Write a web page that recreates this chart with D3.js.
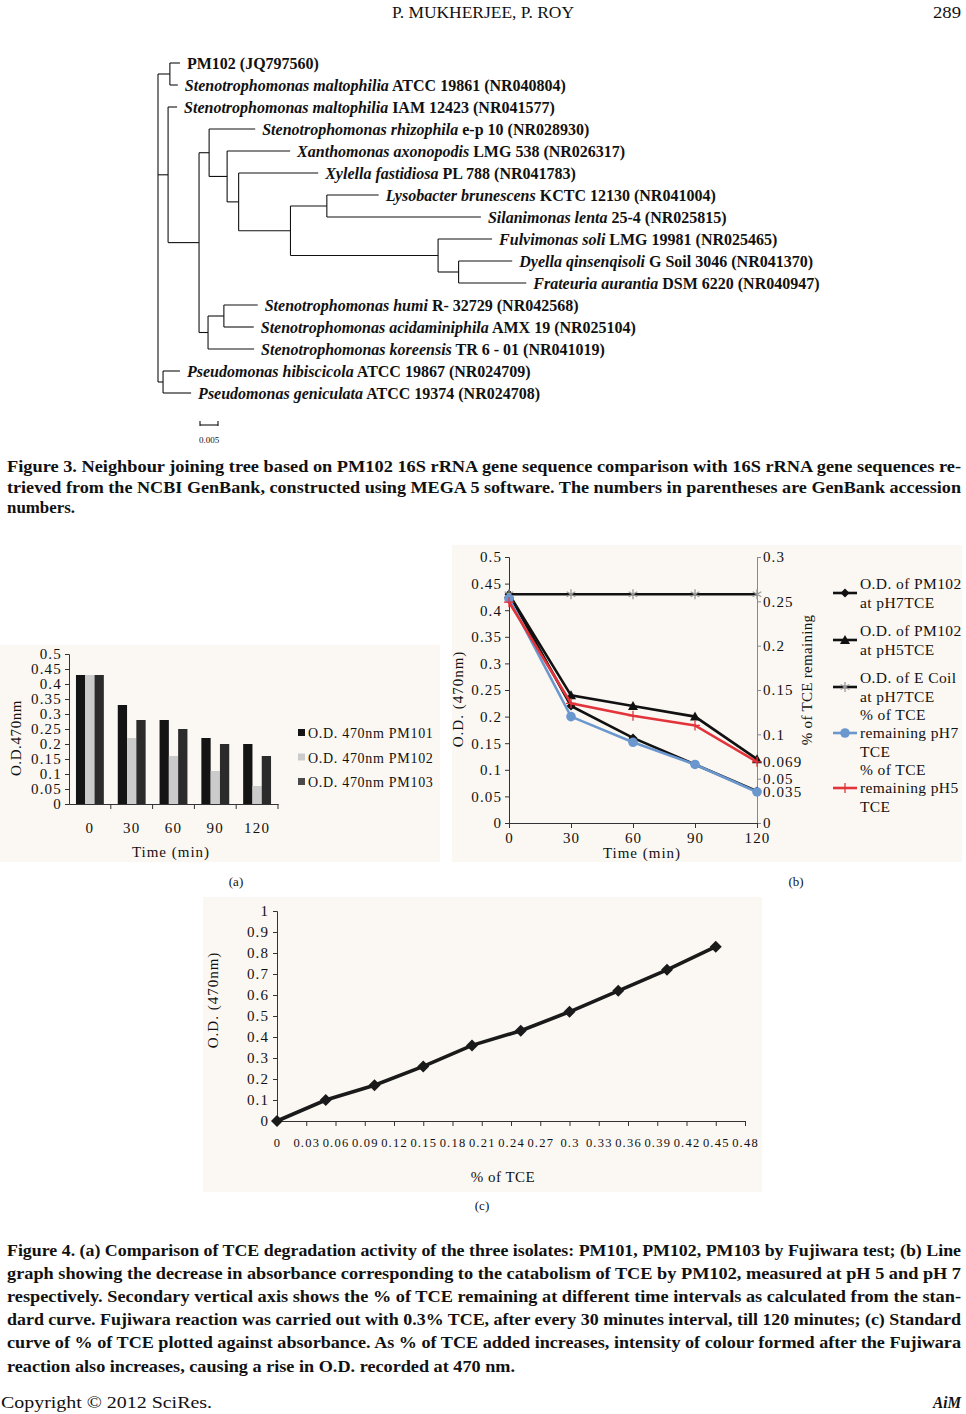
<!DOCTYPE html>
<html><head><meta charset="utf-8">
<script src="https://cdn.jsdelivr.net/npm/d3@7"></script>
<style>
body{margin:0;background:#fff;}
svg{display:block;}
text{font-family:"Liberation Serif","Times New Roman",serif;fill:#111;}
</style></head><body>
<svg id="page" width="966" height="1414"></svg>
<script>
// ================= DATA =================
const headerText = "P. MUKHERJEE, P. ROY";
const pageNumber = "289";
const footerLeft = "Copyright © 2012 SciRes.";
const footerRight = "AiM";

const fig3Caption = [
  "Figure 3. Neighbour joining tree based on PM102 16S rRNA gene sequence comparison with 16S rRNA gene sequences re-",
  "trieved from the NCBI GenBank, constructed using MEGA 5 software. The numbers in parentheses are GenBank accession",
  "numbers."
];
const fig4Caption = [
  "Figure 4. (a) Comparison of TCE degradation activity of the three isolates: PM101, PM102, PM103 by Fujiwara test; (b) Line",
  "graph showing the decrease in absorbance corresponding to the catabolism of TCE by PM102, measured at pH 5 and pH 7",
  "respectively. Secondary vertical axis shows the % of TCE remaining at different time intervals as calculated from the stan-",
  "dard curve. Fujiwara reaction was carried out with 0.3% TCE, after every 30 minutes interval, till 120 minutes; (c) Standard",
  "curve of % of TCE plotted against absorbance. As % of TCE added increases, intensity of colour formed after the Fujiwara",
  "reaction also increases, causing a rise in O.D. recorded at 470 nm."
];
const panelLabels = ["(a)", "(b)", "(c)"];

// ---- Figure 3: neighbour joining tree ----
const leafSpecies = [
  "", "Stenotrophomonas maltophilia", "Stenotrophomonas maltophilia", "Stenotrophomonas rhizophila",
  "Xanthomonas axonopodis", "Xylella fastidiosa", "Lysobacter brunescens", "Silanimonas lenta",
  "Fulvimonas soli", "Dyella qinsenqisoli", "Frateuria aurantia", "Stenotrophomonas humi",
  "Stenotrophomonas acidaminiphila", "Stenotrophomonas koreensis", "Pseudomonas hibiscicola", "Pseudomonas geniculata"
];
const leafStrain = [
  "PM102 (JQ797560)", " ATCC 19861 (NR040804)", " IAM 12423 (NR041577)", " e-p 10 (NR028930)",
  " LMG 538 (NR026317)", " PL 788 (NR041783)", " KCTC 12130 (NR041004)", " 25-4 (NR025815)",
  " LMG 19981 (NR025465)", " G Soil 3046 (NR041370)", " DSM 6220 (NR040947)", " R- 32729 (NR042568)",
  " AMX 19 (NR025104)", " TR 6 - 01 (NR041019)", " ATCC 19867 (NR024709)", " ATCC 19374 (NR024708)"
];
// [branchLength, child, child...]; a leaf is [branchLength, leafIndex]
const treeBranches =
[0,
  [0.0033, [0.0028, 0], [0.0022, 1]],
  [0.0028, [0.0025, 2],
    [0.0086,
      [0.0028, [0.0128, 3],
        [0.0050, [0.0175, 4],
          [0.0032, [0.0221, 5],
            [0.0144,
              [0.0101, [0.0144, 6], [0.0428, 7]],
              [0.0410, [0.0150, 8], [0.0057, [0.0149, 9], [0.0188, 10]]]
            ]
          ]
        ]
      ],
      [0.0025, [0.0044, [0.0094, 11], [0.0083, 12]], [0.0128, 13]]
    ]
  ],
  [0.0014, [0.0047, 14], [0.0078, 15]]
];
const scaleBarValue = 0.005;
const scaleBarLabel = "0.005";

// ---- Figure 4a ----
const timesA = ["0", "30", "60", "90", "120"];
const seriesA = ["O.D. 470nm PM101", "O.D. 470nm PM102", "O.D. 470nm PM103"];
const odPM101 = [0.43, 0.33, 0.28, 0.22, 0.20];
const odPM102 = [0.43, 0.22, 0.16, 0.11, 0.06];
const odPM103 = [0.43, 0.28, 0.25, 0.20, 0.16];
const ticksA = [0, 0.05, 0.1, 0.15, 0.2, 0.25, 0.3, 0.35, 0.4, 0.45, 0.5];
const colorsA = ["#141414", "#cbcbcb", "#2b2b2b"];

// ---- Figure 4b ----
const timesB = [0, 30, 60, 90, 120];
const odPH7 = [0.43, 0.22, 0.16, 0.11, 0.06];
const odPH5 = [0.43, 0.24, 0.22, 0.20, 0.12];
const odEColi = [0.43, 0.43, 0.43, 0.43, 0.43];
const tcePH7 = [0.253, 0.12, 0.091, 0.066, 0.035];
const tcePH5 = [0.249, 0.135, 0.121, 0.11, 0.069];
const ticksBLeft = [0, 0.05, 0.1, 0.15, 0.2, 0.25, 0.3, 0.35, 0.4, 0.45, 0.5];
const ticksBRight = [0, 0.035, 0.05, 0.069, 0.1, 0.15, 0.2, 0.25, 0.3];
const legendB = [
  ["O.D. of  PM102", "at pH7TCE"],
  ["O.D. of  PM102", "at pH5TCE"],
  ["O.D. of  E Coil", "at pH7TCE"],
  ["% of TCE", "remaining pH7", "TCE"],
  ["% of TCE", "remaining pH5", "TCE"]
];

// ---- Figure 4c ----
const tceC = [0, 0.05, 0.1, 0.15, 0.2, 0.25, 0.3, 0.35, 0.4, 0.45];
const odC = [0, 0.10, 0.17, 0.26, 0.36, 0.43, 0.52, 0.62, 0.72, 0.83];
const ticksCy = [0, 0.1, 0.2, 0.3, 0.4, 0.5, 0.6, 0.7, 0.8, 0.9, 1];
const ticksCx = [0, 0.03, 0.06, 0.09, 0.12, 0.15, 0.18, 0.21, 0.24, 0.27, 0.3, 0.33, 0.36, 0.39, 0.42, 0.45, 0.48];

// ================= DRAW =================
const svg = d3.select("#page");
const fmt = d => d === 0 ? "0" : String(+d.toFixed(3));
const panelFill = "#fbf8f4";

function txt(g, s, x, y, o = {}) {
  const t = g.append("text").attr("x", x).attr("y", y).text(s)
    .style("font-size", (o.size || 16) + "px")
    .style("font-weight", o.bold ? "bold" : "normal")
    .style("font-style", o.italic ? "italic" : "normal")
    .attr("text-anchor", o.anchor || "start");
  if (o.ls) t.style("letter-spacing", o.ls + "px");
  if (o.width) t.attr("textLength", o.width).attr("lengthAdjust", "spacingAndGlyphs");
  if (o.fill) t.style("fill", o.fill);
  return t;
}

// header / footer
txt(svg, headerText, 483, 18, {size: 16, anchor: "middle", width: 182});
txt(svg, pageNumber, 961, 18, {size: 16, anchor: "end", width: 28});
txt(svg, footerLeft, 1, 1408, {size: 16, width: 211});
txt(svg, footerRight, 961, 1408, {size: 16, bold: true, italic: true, anchor: "end", width: 28});

// captions
const capLeft = 7, capRight = 961;
fig3Caption.forEach((s, i) => {
  const last = i === fig3Caption.length - 1;
  txt(svg, s, capLeft, 472 + i * 20.7, {size: 16.5, bold: true, width: last ? 68 : capRight - capLeft});
});
fig4Caption.forEach((s, i) => {
  const last = i === fig4Caption.length - 1;
  txt(svg, s, capLeft, 1256 + i * 23.1, {size: 16.5, bold: true, width: last ? 508 : capRight - capLeft});
});
txt(svg, panelLabels[0], 236, 886, {size: 13, anchor: "middle"});
txt(svg, panelLabels[1], 796, 886, {size: 13, anchor: "middle"});
txt(svg, panelLabels[2], 482, 1210, {size: 13, anchor: "middle"});

// ---------- Tree ----------
(function drawTree() {
  const g = svg.append("g");
  function build(a) {
    if (a.length === 2 && typeof a[1] === "number") return {len: a[0], leaf: a[1]};
    return {len: a[0], children: a.slice(1).map(build)};
  }
  const root = d3.hierarchy(build(treeBranches));
  root.each(n => { n.dist = n.parent ? n.parent.dist + n.data.len : 0; });
  const xT = d3.scaleLinear().domain([0, 0.1]).range([158, 158 + 360]);
  const yT = d3.scalePoint().domain(d3.range(leafStrain.length)).range([63, 393]);
  root.eachAfter(n => {
    n.px = xT(n.dist);
    if (!n.children) n.py = yT(n.data.leaf);
    else n.py = (n.children[0].py + n.children[n.children.length - 1].py) / 2;
  });
  const line = g.append("g").attr("stroke", "#111").attr("stroke-width", 1.1).attr("fill", "none");
  root.descendants().forEach(n => {
    if (n.parent) line.append("line").attr("x1", n.parent.px).attr("x2", n.px).attr("y1", n.py).attr("y2", n.py);
    if (n.children) line.append("line").attr("x1", n.px).attr("x2", n.px)
      .attr("y1", n.children[0].py).attr("y2", n.children[n.children.length - 1].py);
  });
  root.leaves().forEach(n => {
    const t = g.append("text").attr("x", n.px + 7).attr("y", n.py + 5.5)
      .style("font-size", "16px").style("font-weight", "bold");
    const sp = leafSpecies[n.data.leaf];
    if (sp) t.append("tspan").style("font-style", "italic").text(sp);
    t.append("tspan").text(leafStrain[n.data.leaf]);
  });
  // scale bar
  const x0 = 200, x1 = x0 + (xT(scaleBarValue) - xT(0)), yb = 425;
  line.append("line").attr("x1", x0).attr("x2", x1).attr("y1", yb).attr("y2", yb);
  line.append("line").attr("x1", x0).attr("x2", x0).attr("y1", yb - 4).attr("y2", yb + 1);
  line.append("line").attr("x1", x1).attr("x2", x1).attr("y1", yb - 4).attr("y2", yb + 1);
  txt(g, scaleBarLabel, (x0 + x1) / 2, 443, {size: 9, anchor: "middle"});
})();

function styleAxis(a, color, fs, ls) {
  a.select(".domain").attr("stroke", color);
  a.selectAll(".tick line").attr("stroke", color);
  a.selectAll(".tick text").style("font-family", '"Liberation Serif",serif')
    .style("font-size", fs + "px").style("letter-spacing", ls + "px").attr("fill", "#111");
}

// ---------- Fig 4a: bar chart ----------
(function drawA() {
  const g = svg.append("g");
  g.append("rect").attr("x", 0).attr("y", 645).attr("width", 440).attr("height", 217).attr("fill", panelFill);
  const y = d3.scaleLinear().domain([0, 0.5]).range([804, 654]);
  const x = d3.scaleBand().domain(timesA).range([69, 278]);
  const xs = d3.scaleBand().domain(seriesA).range([0, x.bandwidth()]).paddingOuter(0.75);
  const vals = [odPM101, odPM102, odPM103];
  seriesA.forEach((s, si) => {
    g.append("g").selectAll("rect").data(timesA).join("rect")
      .attr("x", (t) => x(t) + xs(s)).attr("width", xs.bandwidth())
      .attr("y", (t, i) => y(vals[si][i])).attr("height", (t, i) => y(0) - y(vals[si][i]))
      .attr("fill", colorsA[si]);
  });
  const ay = g.append("g").attr("transform", "translate(69,0)")
    .call(d3.axisLeft(y).tickValues(ticksA).tickFormat(fmt).tickSize(4).tickPadding(3));
  styleAxis(ay, "#333", 15, 1.2);
  const ax = g.append("g").attr("transform", "translate(0,804)")
    .call(d3.axisBottom(x).tickSize(0).tickPadding(18));
  styleAxis(ax, "#333", 15, 1.2);
  // category separator ticks
  g.append("g").selectAll("line").data(timesA).join("line")
    .attr("x1", t => x(t) + x.bandwidth()).attr("x2", t => x(t) + x.bandwidth())
    .attr("y1", 804).attr("y2", 809).attr("stroke", "#333");
  txt(g, "Time (min)", 171, 857, {size: 15, anchor: "middle", ls: 1});
  txt(g, "O.D.470nm", 0, 0, {size: 15, anchor: "middle", ls: 0.6}).attr("transform", "translate(21,738) rotate(-90)");
  seriesA.forEach((s, i) => {
    const yy = 733 + i * 24.5;
    g.append("rect").attr("x", 298).attr("y", yy - 4).attr("width", 7).attr("height", 7)
      .attr("fill", i === 2 ? "#4a4a4a" : colorsA[i]);
    txt(g, s, 308, yy + 5, {size: 14, ls: 0.7});
  });
})();

// ---------- Fig 4b: line chart ----------
function markerPath(type) {
  switch (type) {
    case "diamond": return "M0,-4.5L4.5,0L0,4.5L-4.5,0Z";
    case "triangle": return "M0,-5L5,4L-5,4Z";
    case "star": return "M0,-5V5M-4.3,-2.5L4.3,2.5M-4.3,2.5L4.3,-2.5";
    case "plus": return "M-5,0H5M0,-5V5";
    default: return "";
  }
}
(function drawB() {
  const g = svg.append("g");
  g.append("rect").attr("x", 452).attr("y", 545).attr("width", 510).attr("height", 317).attr("fill", panelFill);
  const x = d3.scaleLinear().domain([0, 120]).range([509, 757]);
  const yL = d3.scaleLinear().domain([0, 0.5]).range([823, 557]);
  const yR = d3.scaleLinear().domain([0, 0.3]).range([823, 557]);
  const series = [
    {v: odPH7, y: yL, color: "#111", marker: "diamond", mfill: "#111"},
    {v: odPH5, y: yL, color: "#111", marker: "triangle", mfill: "#111"},
    {v: odEColi, y: yL, color: "#111", marker: "star", mfill: "none", mstroke: "#999"},
    {v: tcePH7, y: yR, color: "#6b97cf", marker: "circle", mfill: "#6b97cf"},
    {v: tcePH5, y: yR, color: "#e2343a", marker: "plus", mfill: "none", mstroke: "#e2343a"}
  ];
  const axL = g.append("g").attr("transform", "translate(509,0)")
    .call(d3.axisLeft(yL).tickValues(ticksBLeft).tickFormat(fmt).tickSize(4).tickPadding(3));
  styleAxis(axL, "#333", 15, 1.1);
  const axR = g.append("g").attr("transform", "translate(757,0)")
    .call(d3.axisRight(yR).tickValues(ticksBRight).tickFormat(fmt).tickSize(4).tickPadding(2));
  styleAxis(axR, "#888", 15, 1.1);
  const axB = g.append("g").attr("transform", "translate(0,823)")
    .call(d3.axisBottom(x).tickValues(timesB).tickSize(5).tickPadding(4));
  styleAxis(axB, "#333", 15, 1.1);

  const drawMarker = (sel, s) => {
    if (s.marker === "circle") sel.append("circle").attr("r", 4.8).attr("fill", s.mfill);
    else sel.append("path").attr("d", markerPath(s.marker)).attr("fill", s.mfill)
      .attr("stroke", s.mstroke || "none").attr("stroke-width", 1.3);
  };
  series.forEach(s => {
    const ln = d3.line().x((d, i) => x(timesB[i])).y(d => s.y(d));
    g.append("path").datum(s.v).attr("d", ln).attr("fill", "none").attr("stroke", s.color).attr("stroke-width", 2.6);
    s.v.forEach((d, i) => {
      const m = g.append("g").attr("transform", `translate(${x(timesB[i])},${s.y(d)})`);
      drawMarker(m, s);
    });
  });
  // legend
  const legY = [593, 640, 687, 733, 788];
  legendB.forEach((lines, i) => {
    const s = series[i];
    g.append("line").attr("x1", 833).attr("x2", 857).attr("y1", legY[i]).attr("y2", legY[i])
      .attr("stroke", s.color).attr("stroke-width", 2.6);
    drawMarker(g.append("g").attr("transform", `translate(845,${legY[i]})`), s);
    const n = lines.length;
    const top = n === 2 ? legY[i] - 9 : legY[i] - 18.5;
    lines.forEach((l, j) => txt(g, l, 860, top + j * 18.5 + 5, {size: 15.5, ls: 0.4}));
  });
  txt(g, "Time (min)", 642, 858, {size: 15, anchor: "middle", ls: 1});
  txt(g, "O.D. (470nm)", 0, 0, {size: 15, anchor: "middle", ls: 1}).attr("transform", "translate(463,699) rotate(-90)");
  txt(g, "% of TCE remaining", 0, 0, {size: 15, anchor: "middle", ls: 0.3}).attr("transform", "translate(812,680) rotate(-90)");
})();

// ---------- Fig 4c: standard curve ----------
(function drawC() {
  const g = svg.append("g");
  g.append("rect").attr("x", 203).attr("y", 897).attr("width", 559).attr("height", 295).attr("fill", panelFill);
  const x = d3.scaleLinear().domain([0, 0.48]).range([277, 745]);
  const y = d3.scaleLinear().domain([0, 1]).range([1121, 911]);
  const ay = g.append("g").attr("transform", "translate(277,0)")
    .call(d3.axisLeft(y).tickValues(ticksCy).tickFormat(fmt).tickSize(4).tickPadding(4));
  styleAxis(ay, "#333", 15, 1.1);
  const ax = g.append("g").attr("transform", "translate(0,1121)")
    .call(d3.axisBottom(x).tickValues(ticksCx).tickFormat(fmt).tickSize(5).tickPadding(12));
  styleAxis(ax, "#333", 12.5, 1.2);
  const ln = d3.line().x((d, i) => x(tceC[i])).y(d => y(d));
  g.append("path").datum(odC).attr("d", ln).attr("fill", "none").attr("stroke", "#1a1a1a").attr("stroke-width", 3.6);
  g.append("g").selectAll("path").data(odC).join("path")
    .attr("transform", (d, i) => `translate(${x(tceC[i])},${y(d)})`)
    .attr("d", "M0,-6L6,0L0,6L-6,0Z").attr("fill", "#1a1a1a");
  txt(g, "% of TCE", 503, 1182, {size: 15, anchor: "middle", ls: 0.5});
  txt(g, "O.D. (470nm)", 0, 0, {size: 15, anchor: "middle", ls: 1}).attr("transform", "translate(218,1000) rotate(-90)");
})();
</script>
</body></html>
